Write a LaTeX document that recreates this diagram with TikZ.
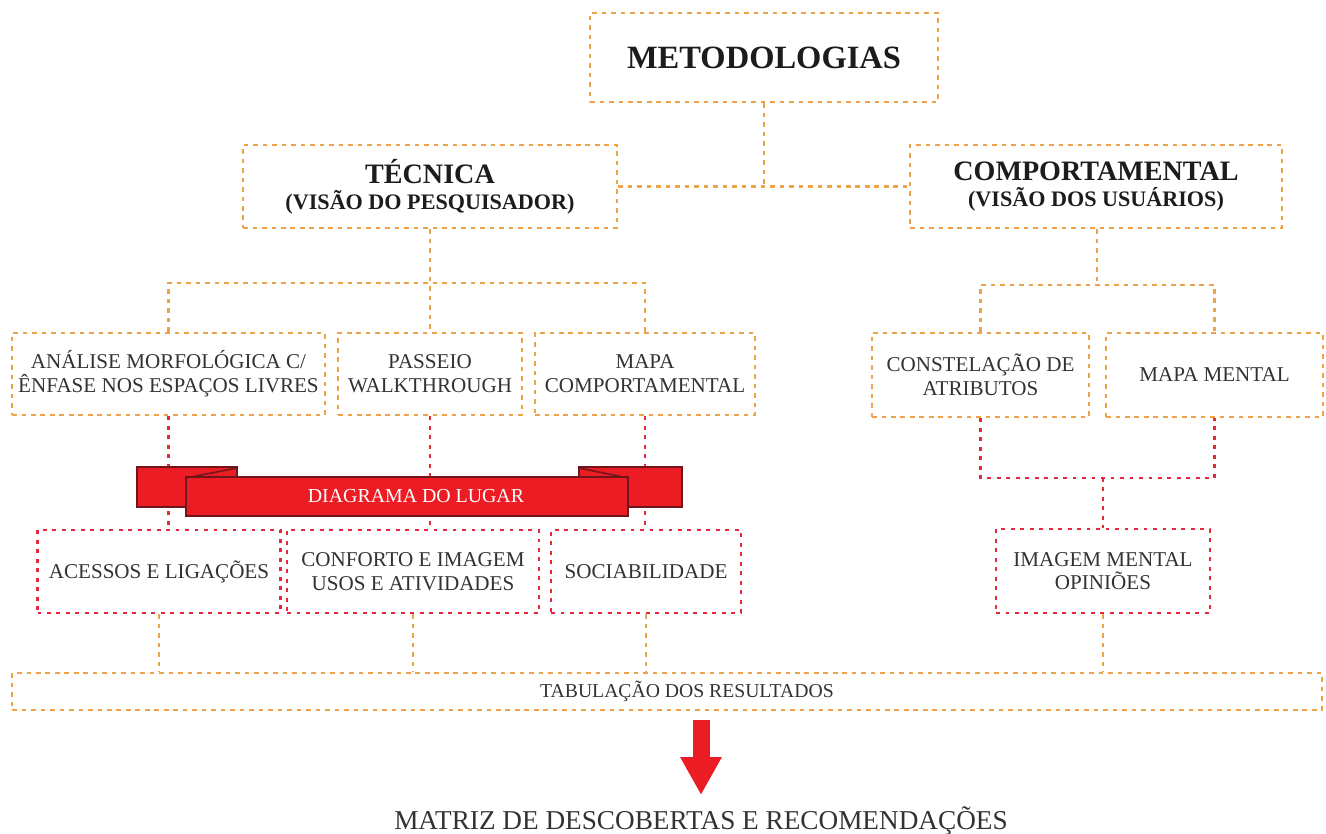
\documentclass[tikz,border=0pt]{standalone}
\usepackage{fontspec}
\setmainfont{Liberation Serif}
\usetikzlibrary{arrows.meta}
\definecolor{orgline}{RGB}{240,162,72}
\definecolor{redline}{RGB}{228,42,58}
\definecolor{ribbon}{RGB}{236,28,36}
\definecolor{ribbonedge}{RGB}{112,22,26}
\definecolor{txtgray}{RGB}{50,50,50}
\definecolor{txtdark}{RGB}{28,28,28}
\tikzset{
  box/.style={draw=orgline, line width=1.5pt, dash pattern=on 2.6pt off 2.8pt,
    align=center, inner sep=0pt, text=txtgray,
    font=\fontsize{12}{13.5}\selectfont},
  redbox/.style={box, draw=redline, line width=1.6pt, dash pattern=on 2.2pt off 3.2pt},
  link/.style={draw=orgline, line width=1.5pt, dash pattern=on 2.6pt off 2.8pt},
  redlink/.style={draw=redline, line width=1.6pt, dash pattern=on 2.2pt off 3.2pt},
  bigarrow/.style={draw=ribbon, line width=0.34cm,
    -{Triangle[width=0.78cm,length=0.76cm]}}
}
\begin{document}
\begin{tikzpicture}[x=0.02cm,y=-0.02cm]
  \useasboundingbox (0,0) rectangle (1326,834);
  % top levels
  \node[box, minimum width=6.96cm, minimum height=1.78cm, text=txtdark,
        font=\fontsize{18.5}{20}\selectfont\bfseries] (metod) at (764,57.5) {METODOLOGIAS};
  \node[box, minimum width=7.48cm, minimum height=1.66cm, text=txtdark,
        font=\fontsize{12.6}{15}\selectfont\bfseries] (tecnica) at (430,186.5)
        {{\fontsize{16}{15}\selectfont TÉCNICA}\\(VISÃO DO PESQUISADOR)};
  \node[box, minimum width=7.44cm, minimum height=1.66cm, text=txtdark,
        font=\fontsize{12.6}{15}\selectfont\bfseries] (comport) at (1096,186.5)
        {{\fontsize{16}{15}\selectfont COMPORTAMENTAL}\\(VISÃO DOS USUÁRIOS)};
  \coordinate (mj) at (764,185);
  \draw[link] (metod.south) -- (mj);
  \draw[link] (tecnica.east) -- (comport.west);
  % second row
  \node[box, minimum width=6.26cm, minimum height=1.64cm] (analise) at (168.5,374)
        {ANÁLISE MORFOLÓGICA C/\\ÊNFASE NOS ESPAÇOS LIVRES};
  \node[box, minimum width=3.68cm, minimum height=1.64cm] (passeio) at (430,374)
        {PASSEIO\\WALKTHROUGH};
  \node[box, minimum width=4.4cm, minimum height=1.64cm] (mapacomp) at (645,374)
        {MAPA\\COMPORTAMENTAL};
  \node[box, minimum width=4.34cm, minimum height=1.68cm] (constel) at (980.5,375)
        {CONSTELAÇÃO DE\\ATRIBUTOS};
  \node[box, minimum width=4.34cm, minimum height=1.68cm] (mapament) at (1214.5,375)
        {MAPA MENTAL};
  \coordinate (tj) at (430,283);
  \coordinate (cj) at (1097,285);
  \draw[link] (tecnica.south) -- (passeio.north);
  \draw[link] (analise.north) |- (tj) -| (mapacomp.north);
  \draw[link] (comport.south -| cj) -- (cj);
  \draw[link] (constel.north) |- (cj) -| (mapament.north);
  % third row
  \node[redbox, minimum width=4.86cm, minimum height=1.66cm] (acessos) at (159,571.5)
        {ACESSOS E LIGAÇÕES};
  \node[redbox, minimum width=5.04cm, minimum height=1.66cm] (conforto) at (413,571.5)
        {CONFORTO E IMAGEM\\USOS E ATIVIDADES};
  \node[redbox, minimum width=3.8cm, minimum height=1.66cm] (sociab) at (646,571.5)
        {SOCIABILIDADE};
  \node[redbox, minimum width=4.28cm, minimum height=1.68cm] (imagem) at (1103,571)
        {IMAGEM MENTAL\\OPINIÕES};
  \draw[redlink] (analise.south) -- (analise.south |- acessos.north);
  \draw[redlink] (passeio.south) -- (passeio.south |- conforto.north);
  \draw[redlink] (mapacomp.south) -- (mapacomp.south |- sociab.north);
  \coordinate (rj) at (1103,478);
  \draw[redlink] (constel.south) |- (rj) -| (mapament.south);
  \draw[redlink] (rj) -- (imagem.north);
  % ribbon
  \begin{scope}[draw=ribbonedge, fill=ribbon, line width=0.9pt]
    \filldraw (137,467) rectangle (237,507);
    \filldraw (579,467) rectangle (682,507);
    \filldraw (186,477) rectangle (628,516);
    \draw (186,478) -- (237,468);
    \draw (579,468) -- (628,478);
  \end{scope}
  \node[text=white, font=\fontsize{11.3}{12}\selectfont] (diag) at (416,496.5) {DIAGRAMA DO LUGAR};
  % results
  \node[box, minimum width=26.2cm, minimum height=0.74cm,
        font=\fontsize{11.2}{12}\selectfont] (tab) at (667,691.5)
        {\hspace*{0.8cm}TABULAÇÃO DOS RESULTADOS};
  \draw[link] (acessos.south) -- (acessos.south |- tab.north);
  \draw[link] (conforto.south) -- (conforto.south |- tab.north);
  \draw[link] (sociab.south) -- (sociab.south |- tab.north);
  \draw[link] (imagem.south) -- (imagem.south |- tab.north);
  \node[text=txtgray, font=\fontsize{15.5}{16}\selectfont] (matriz) at (701,821)
        {MATRIZ DE DESCOBERTAS E RECOMENDAÇÕES};
  \coordinate (a1) at (701,720);
  \coordinate (a2) at (701,795);
  \draw[bigarrow] (a1) -- (a2);
\end{tikzpicture}
\end{document}
